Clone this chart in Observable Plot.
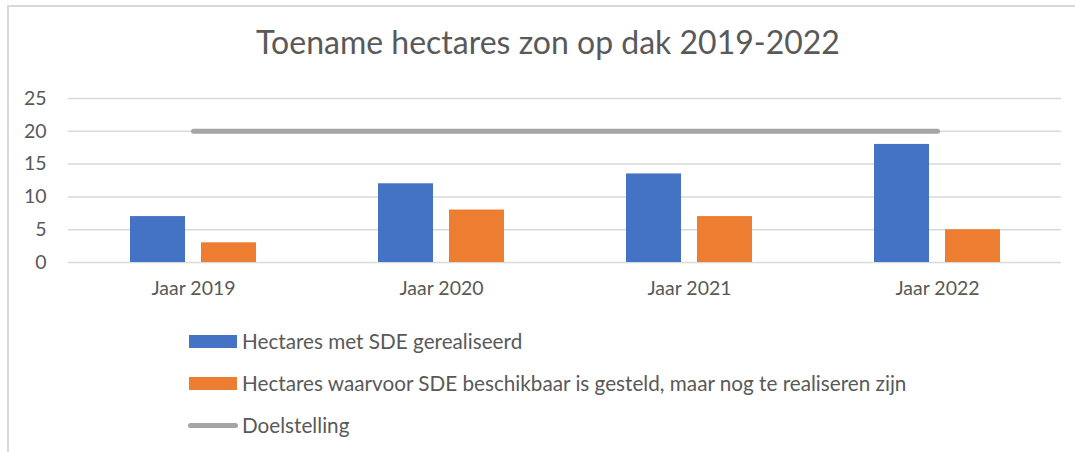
<!DOCTYPE html>
<html>
<head>
<meta charset="utf-8">
<script src="https://cdn.jsdelivr.net/npm/d3@7"></script>
<script src="https://cdn.jsdelivr.net/npm/@observablehq/plot@0.6"></script>
<style>
  html, body { margin: 0; padding: 0; background: #fff; }
  body { width: 1075px; height: 452px; position: relative; overflow: hidden; font-family: Lato, "Open Sans", sans-serif; color: #595959; }
  #frame { position: absolute; left: 7px; top: 5px; width: 1075px; height: 460px; border-left: 2px solid #d9d9d9; border-top: 2px solid #d9d9d9; }
  #title { position: absolute; left: 0; top: 22px; width: 1096px; text-align: center; font-size: 32px; font-weight: 400; color: #595959; }
  #chart { position: absolute; left: 0; top: 70px; }
  .leg { position: absolute; left: 188px; font-size: 20.7px; color: #595959; white-space: nowrap; }
  .sw { position: absolute; left: 0; }
  .lt { position: absolute; left: 54px; top: -2px; line-height: 24px; }
</style>
</head>
<body>
<div id="frame"></div>
<div id="title">Toename hectares zon op dak 2019-2022</div>
<div id="chart"></div>
<div id="legend"></div>
<script>
const years = ["Jaar 2019", "Jaar 2020", "Jaar 2021", "Jaar 2022"];
const realised = [7, 12, 13.5, 18];
const available = [3, 8, 7, 5];
const goal = [20, 20, 20, 20];
const yTicks = [0, 5, 10, 15, 20, 25];
const seriesNames = [
  "Hectares met SDE gerealiseerd",
  "Hectares waarvoor SDE beschikbaar is gesteld, maar nog te realiseren zijn",
  "Doelstelling"
];
const colors = ["#4472c4", "#ed7d31", "#a5a5a5"];

const realisedData = years.map((y, i) => ({year: y, value: realised[i]}));
const availableData = years.map((y, i) => ({year: y, value: available[i]}));
const goalData = years.map((y, i) => ({year: y, value: goal[i]}));

const plot = Plot.plot({
  width: 1075,
  height: 242,
  marginLeft: 68,
  marginRight: 14,
  marginTop: 28,
  marginBottom: 50,
  style: {fontFamily: "Lato, 'Open Sans', sans-serif", fontSize: "19.5px", color: "#595959", background: "transparent"},
  x: {domain: years, padding: 0, label: null, tickSize: 0, tickPadding: 19},
  y: {domain: [0, 25], ticks: yTicks, label: null, tickSize: 0, tickPadding: 22},
  marks: [
    Plot.ruleY(yTicks, {stroke: "#d9d9d9", strokeWidth: 1.5}),
    Plot.barY(realisedData, {x: "year", y: "value", fill: colors[0], insetLeft: 61, insetRight: 132}),
    Plot.barY(availableData, {x: "year", y: "value", fill: colors[1], insetLeft: 132, insetRight: 61}),
    Plot.lineY(goalData, {x: "year", y: "value", stroke: colors[2], strokeWidth: 5, strokeLinecap: "round"})
  ]
});
plot.querySelectorAll("[aria-label='x-axis tick label'] text, [aria-label='y-axis tick label'] text").forEach(t => t.setAttribute("fill", "#595959"));
document.getElementById("chart").appendChild(plot);

const legend = document.getElementById("legend");
const rowTops = [331, 373, 415];
seriesNames.forEach((name, i) => {
  const row = document.createElement("div");
  row.className = "leg";
  row.style.top = rowTops[i] + "px";
  const sw = document.createElement("div");
  sw.className = "sw";
  if (i < 2) {
    sw.style.cssText = `left:1px;top:4px;width:48px;height:13px;background:${colors[i]}`;
  } else {
    sw.style.cssText = `left:0px;top:8px;width:50px;height:5px;border-radius:3px;background:${colors[i]}`;
  }
  const t = document.createElement("div");
  t.className = "lt";
  t.textContent = name;
  row.appendChild(sw);
  row.appendChild(t);
  legend.appendChild(row);
});
</script>
</body>
</html>
